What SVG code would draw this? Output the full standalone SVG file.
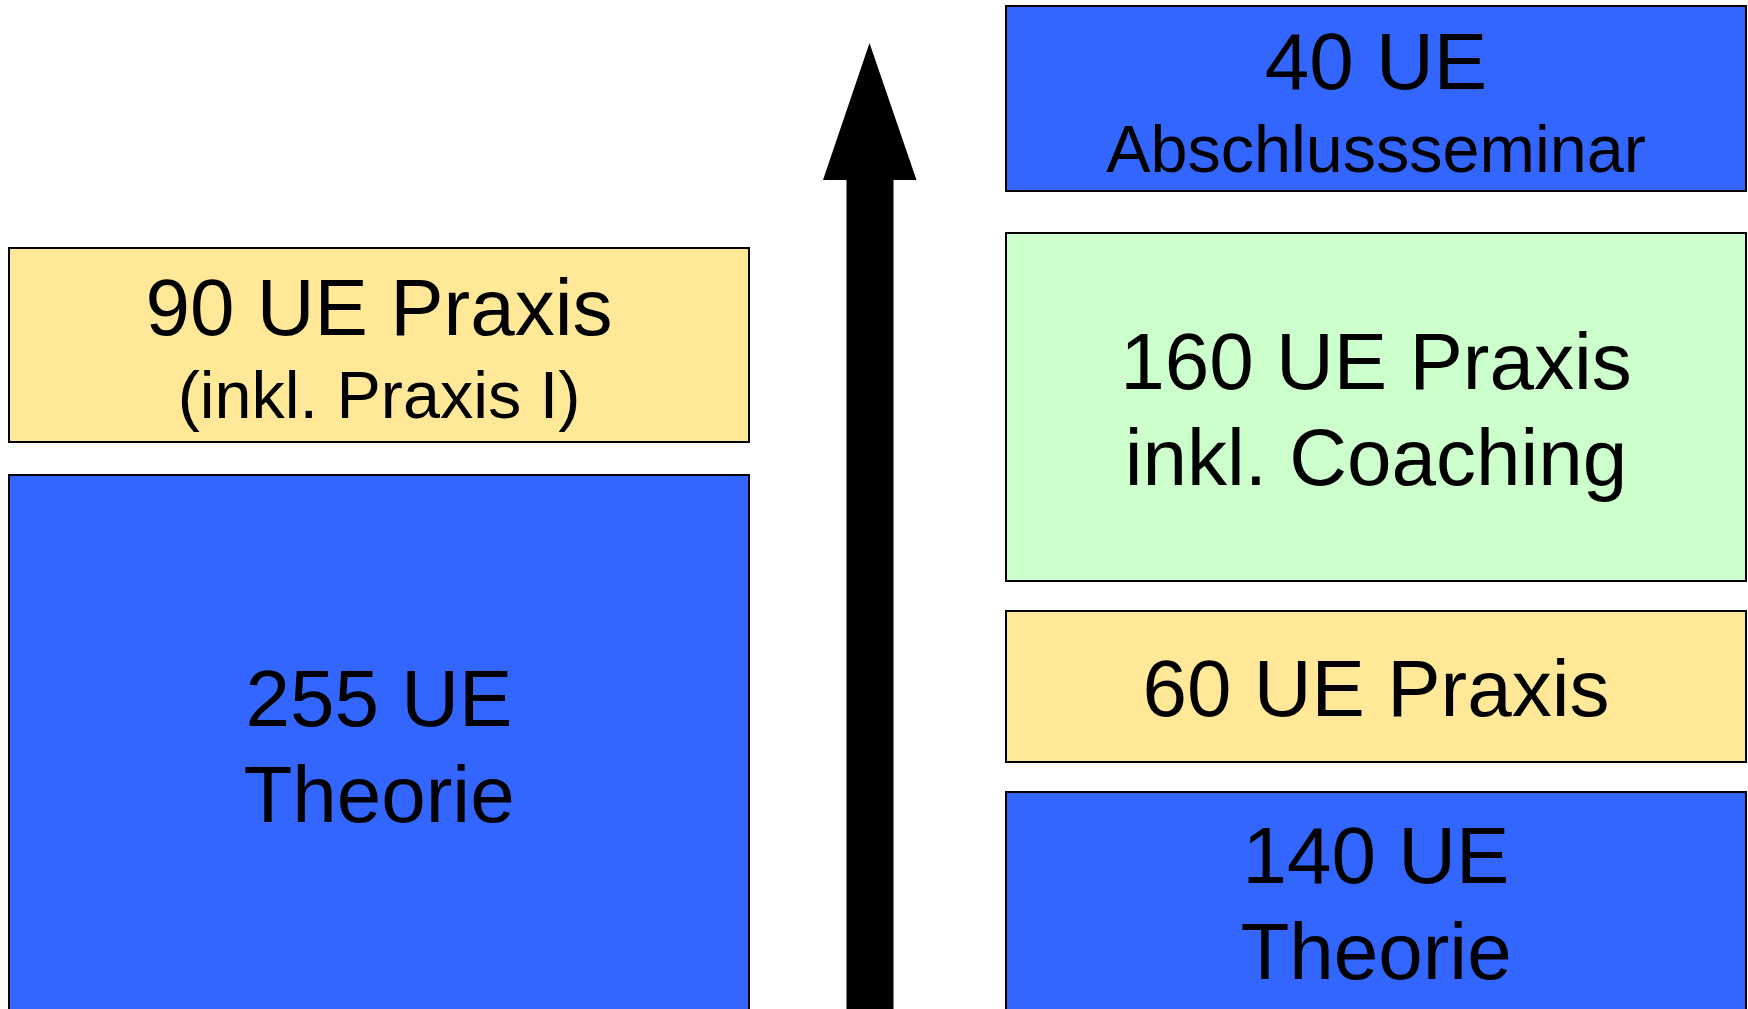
<svg xmlns="http://www.w3.org/2000/svg" width="1748" height="1009" viewBox="0 0 1748 1009">
<style>
.box{stroke:#000;stroke-width:2}
.blue{fill:#3366FF}
.yellow{fill:#FFE999}
.green{fill:#CCFFCC}
text{font-family:"Liberation Sans",Arial,sans-serif;fill:#000;text-anchor:middle}
.big{font-size:80px}
.small{font-size:66.5px}
</style>
<rect width="1748" height="1009" fill="#fff"/>
<g id="connectors">
<path d="M869.5 43 L916.5 180 L893.5 180 L893.5 1012 L846.5 1012 L846.5 180 L823 180 Z" fill="#000"/>
</g>
<g id="left-praxis">
<rect class="box yellow" x="9" y="248" width="740" height="194"/>
<text class="big" x="379" y="335">90 UE Praxis</text>
<text class="small" x="379" y="418">(inkl. Praxis I)</text>
</g>
<g id="left-theorie">
<rect class="box blue" x="9" y="475" width="740" height="545"/>
<text class="big" x="379" y="726">255 UE</text>
<text class="big" x="379" y="822">Theorie</text>
</g>
<g id="right-abschluss">
<rect class="box blue" x="1006" y="6" width="740" height="185"/>
<text class="big" x="1376" y="89">40 UE</text>
<text class="small" x="1376" y="172">Abschlussseminar</text>
</g>
<g id="right-coaching">
<rect class="box green" x="1006" y="233" width="740" height="348"/>
<text class="big" x="1376" y="389">160 UE Praxis</text>
<text class="big" x="1376" y="485">inkl. Coaching</text>
</g>
<g id="right-praxis">
<rect class="box yellow" x="1006" y="611" width="740" height="151"/>
<text class="big" x="1376" y="716">60 UE Praxis</text>
</g>
<g id="right-theorie">
<rect class="box blue" x="1006" y="792" width="740" height="228"/>
<text class="big" x="1376" y="883">140 UE</text>
<text class="big" x="1376" y="979">Theorie</text>
</g>
</svg>
